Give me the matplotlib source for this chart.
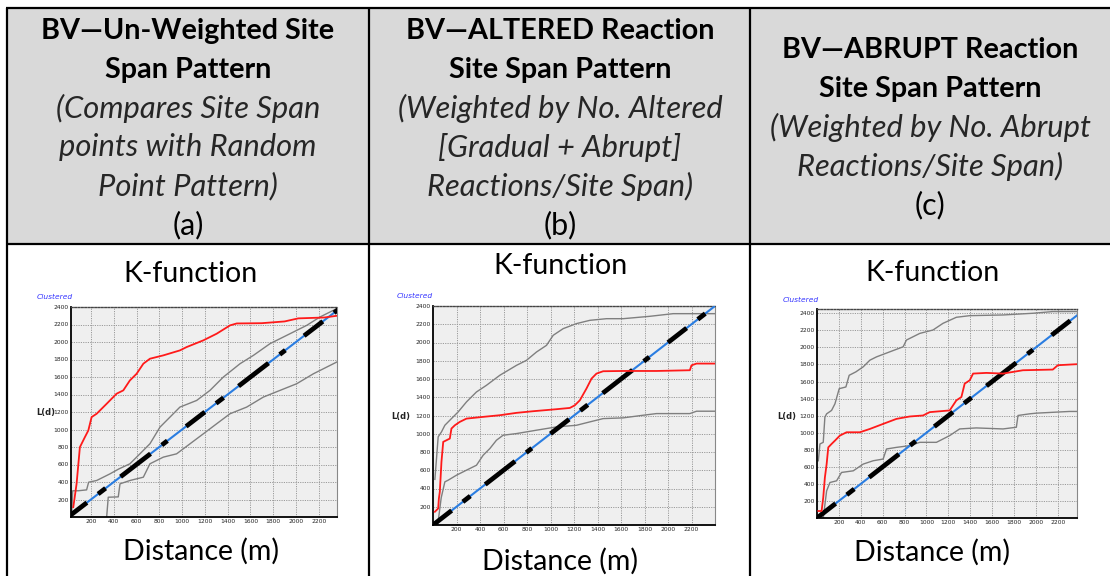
import matplotlib
matplotlib.use('Agg')
import matplotlib.pyplot as plt
from matplotlib.patches import Rectangle

# ---------------- data ----------------
headers_a = ["BV\u2014Un-Weighted Site", "Span Pattern", "(Compares Site Span",
             "points with Random", "Point Pattern)", "(a)"]
headers_b = ["BV\u2014ALTERED Reaction", "Site Span Pattern", "(Weighted by No. Altered",
             "[Gradual + Abrupt]", "Reactions/Site Span)", "(b)"]
headers_c = ["BV\u2014ABRUPT Reaction", "Site Span Pattern", "(Weighted by No. Abrupt",
             "Reactions/Site Span)", "(c)"]
styles_a = ["bold", "bold", "italic", "italic", "italic", "normal"]
styles_b = ["bold", "bold", "italic", "italic", "italic", "normal"]
styles_c = ["bold", "bold", "italic", "italic", "normal"]

x_ticks = [200, 400, 600, 800, 1000, 1200, 1400, 1600, 1800, 2000, 2200]
y_ticks = [200, 400, 600, 800, 1000, 1200, 1400, 1600, 1800, 2000, 2200, 2400]

# (a) un-weighted
a_red_d = [45, 74, 103, 147, 177, 206, 250, 338, 425, 484, 542, 601, 660, 718, 835, 981, 1040,
           1187, 1304, 1421, 1480, 1700, 1900, 2020, 2250, 2360]
a_red_L = [112, 379, 798, 913, 989, 1142, 1180, 1294, 1409, 1447, 1561, 1637, 1752, 1809, 1847,
           1904, 1942, 2019, 2095, 2190, 2212, 2215, 2235, 2270, 2280, 2300]
a_up_d = [30, 40, 90, 162, 180, 250, 367, 446, 542, 630, 718, 806, 894, 981, 1128, 1245, 1362,
          1509, 1626, 1772, 1948, 2094, 2211, 2328, 2358]
a_up_L = [0, 300, 300, 310, 398, 417, 493, 550, 608, 722, 837, 1027, 1142, 1256, 1332, 1447,
          1599, 1752, 1847, 1981, 2095, 2190, 2286, 2362, 2381]
a_lo_d = [338, 352, 440, 455, 542, 660, 718, 835, 952, 1070, 1187, 1304, 1421, 1567, 1714,
          1860, 2006, 2153, 2358]
a_lo_L = [0, 226, 230, 379, 417, 455, 608, 684, 722, 837, 951, 1066, 1180, 1256, 1371, 1447,
          1523, 1637, 1771]

# (b) altered
b_red_d = [16, 44, 50, 58, 72, 87, 115, 143, 157, 186, 228, 285, 427, 569, 711, 853, 1051,
           1165, 1207, 1250, 1306, 1349, 1391, 1448, 1618, 1902, 2186, 2200, 2243, 2399]
b_red_L = [145, 181, 290, 364, 692, 911, 929, 947, 1057, 1093, 1130, 1166, 1185, 1203, 1229,
           1247, 1269, 1283, 1312, 1367, 1495, 1604, 1659, 1685, 1688, 1688, 1696, 1750, 1769, 1769]
b_up_d = [16, 30, 44, 72, 101, 157, 214, 285, 370, 455, 569, 711, 796, 881, 966, 1023, 1108,
          1221, 1335, 1477, 1618, 1845, 2044, 2399]
b_up_L = [500, 730, 966, 1020, 1093, 1166, 1239, 1349, 1458, 1531, 1641, 1750, 1805, 1896,
          1969, 2079, 2152, 2207, 2243, 2261, 2261, 2287, 2316, 2316]
b_lo_d = [40, 70, 101, 129, 200, 285, 370, 427, 484, 540, 597, 711, 881, 1051, 1221, 1335, 1448,
          1618, 1789, 1902, 2186, 2243, 2399]
b_lo_L = [0, 300, 473, 491, 546, 601, 655, 765, 838, 929, 984, 1002, 1039, 1075, 1093, 1130,
          1166, 1174, 1203, 1221, 1221, 1247, 1247]

# (c) abrupt
c_red_d = [12, 42, 57, 72, 88, 103, 133, 164, 209, 270, 391, 483, 604, 726, 847, 969, 1030,
           1212, 1273, 1319, 1349, 1395, 1426, 1547, 1699, 1881, 2154, 2200, 2373]
c_red_L = [82, 82, 239, 475, 632, 828, 868, 907, 966, 1005, 1005, 1044, 1103, 1162, 1190, 1202,
           1241, 1261, 1379, 1418, 1575, 1614, 1693, 1701, 1693, 1732, 1740, 1791, 1803]
c_up_d = [12, 27, 57, 72, 88, 133, 164, 203, 264, 294, 355, 422, 483, 544, 665, 787, 817, 939,
          1060, 1151, 1273, 1395, 1699, 1972, 2154, 2373]
c_up_L = [671, 868, 887, 1182, 1221, 1261, 1339, 1516, 1536, 1673, 1713, 1772, 1850, 1889, 1948,
          2007, 2086, 2164, 2204, 2282, 2353, 2372, 2380, 2400, 2420, 2420]
c_lo_d = [57, 88, 118, 179, 224, 331, 422, 513, 604, 635, 726, 847, 939, 1091, 1212, 1303, 1455,
          1699, 1821, 1836, 1942, 2003, 2306, 2373]
c_lo_L = [0, 318, 416, 436, 534, 553, 632, 671, 691, 809, 828, 848, 887, 887, 966, 1044, 1056,
          1044, 1064, 1202, 1221, 1229, 1249, 1249]

# ---------------- figure ----------------
W, H = 1110, 576
fig = plt.figure(figsize=(W / 100, H / 100), dpi=100)
bg = fig.add_axes([0, 0, 1, 1])
bg.set_xlim(0, W)
bg.set_ylim(H, 0)
bg.axis('off')

bg.add_patch(Rectangle((7, 8), W - 7, 236, facecolor='#d9d9d9', edgecolor='none', zorder=0))
lw_tab = 1.6
bg.plot([6, W], [8, 8], color='black', lw=lw_tab, solid_capstyle='butt')
bg.plot([6, W], [244, 244], color='black', lw=lw_tab, solid_capstyle='butt')
for xv in (7, 369, 750):
    bg.plot([xv, xv], [8, H], color='black', lw=lw_tab, solid_capstyle='butt')

FONT = ['Lato', 'DejaVu Sans']

def header(lines, stys, cx, y0):
    for i, (s, st) in enumerate(zip(lines, stys)):
        kw = dict(ha='center', va='center', family=FONT, color='black')
        if st == 'bold':
            kw['weight'] = 'bold'
            kw['fontsize'] = 20.7
        elif st == 'italic':
            kw['style'] = 'italic'
            kw['color'] = '#262626'
            kw['fontsize'] = 22.2
        else:
            kw['fontsize'] = 22
        bg.text(cx, y0 + i * 38.8, s, **kw)

header(headers_a, styles_a, 188, 31)
header(headers_b, styles_b, 560, 31)
header(headers_c, styles_c, 930, 50)

for (kx, ky, dx, dy) in [(191, 274, 201, 551), (560, 266, 560, 561), (932, 273, 932, 552)]:
    bg.text(kx, ky, "K-function", ha='center', va='center', family=FONT, fontsize=20.5)
    bg.text(dx, dy, "Distance (m)", ha='center', va='center', family=FONT, fontsize=20.5)


def kplot(box, xlim, ylim, red, up, lo, clus_xy, ld_xy):
    l, r, t, b = box
    ax = fig.add_axes([l / W, 1 - b / H, (r - l) / W, (b - t) / H])
    ax.set_facecolor('#efefef')
    ax.set_xlim(*xlim)
    ax.set_ylim(*ylim)
    ax.set_xticks(x_ticks)
    ax.set_yticks(y_ticks)
    ax.grid(True, color='#9a9a9a', linestyle=(0, (1.2, 1.2)), lw=0.7)
    ax.tick_params(length=0, labelsize=4.3, pad=1.5, colors='#222222')
    for sp in ('left', 'bottom'):
        ax.spines[sp].set_color('black')
        ax.spines[sp].set_linewidth(1.3)
    ax.spines['top'].set_color('#444444')
    ax.spines['top'].set_linestyle((0, (1.2, 1.2)))
    ax.spines['top'].set_linewidth(1.0)
    ax.spines['right'].set_color('#888888')
    ax.spines['right'].set_linewidth(0.8)
    d0, d1 = 0, max(xlim[1], ylim[1])
    ax.plot([d0, d1], [d0, d1], color='#2a7de1', lw=1.5, zorder=3)
    ax.plot([d0, d1], [d0, d1], color='black', lw=3.4, zorder=4,
            dashes=(5, 3, 2, 4, 8, 3, 1.5, 5))
    ax.plot(up[0], up[1], color='#7f7f7f', lw=1.0, zorder=2)
    ax.plot(lo[0], lo[1], color='#7f7f7f', lw=1.0, zorder=2)
    ax.plot(red[0], red[1], color='#ff1a1a', lw=1.3, zorder=5)
    bg.text(clus_xy[0], clus_xy[1], "Clustered", ha='left', va='center', fontsize=5.4,
            style='italic', color='#3333ff')
    bg.text(ld_xy[0], ld_xy[1], "L(d)", ha='left', va='center', fontsize=6,
            weight='bold', color='#222222')
    return ax

kplot((71, 337, 307, 517), (25, 2360), (0, 2400), (a_red_d, a_red_L), (a_up_d, a_up_L),
      (a_lo_d, a_lo_L), (37, 297), (36, 412))
kplot((433, 715, 306, 525), (0, 2400), (0, 2400), (b_red_d, b_red_L), (b_up_d, b_up_L),
      (b_lo_d, b_lo_L), (397, 296), (391, 417))
kplot((817, 1077, 309, 518), (0, 2375), (0, 2450), (c_red_d, c_red_L), (c_up_d, c_up_L),
      (c_lo_d, c_lo_L), (783, 300), (777, 417))

fig.savefig('out.png', dpi=100)
